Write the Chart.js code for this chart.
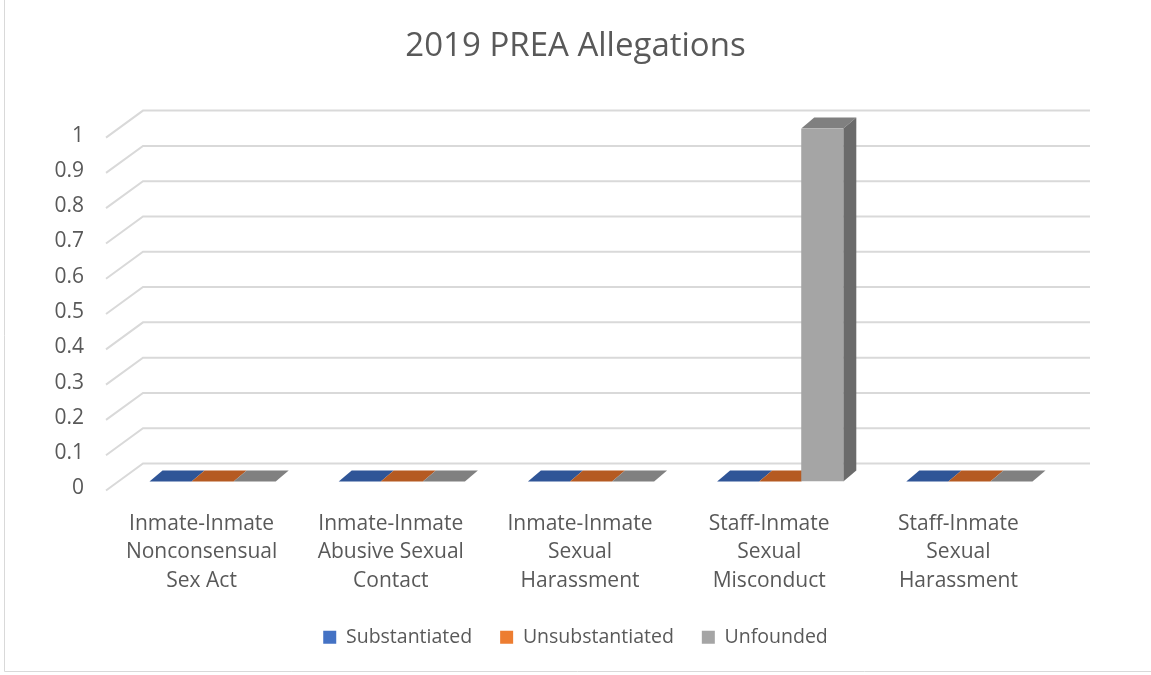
<!DOCTYPE html>
<html>
<head>
<meta charset="utf-8">
<script src="https://cdn.jsdelivr.net/npm/chart.js@4"></script>
<style>
  html, body { margin: 0; padding: 0; background: #fff; }
  #wrap { width: 1151px; height: 675px; position: relative; }
</style>
</head>
<body>
<div id="wrap"><canvas id="myChart" width="1151" height="675"></canvas></div>
<script>
var categories = [
    ['Inmate-Inmate', 'Nonconsensual', 'Sex Act'],
    ['Inmate-Inmate', 'Abusive Sexual', 'Contact'],
    ['Inmate-Inmate', 'Sexual', 'Harassment'],
    ['Staff-Inmate', 'Sexual', 'Misconduct'],
    ['Staff-Inmate', 'Sexual', 'Harassment']
];
var substantiated = [0, 0, 0, 0, 0];
var unsubstantiated = [0, 0, 0, 0, 0];
var unfounded = [0, 0, 0, 1, 0];
var yTicks = [0, 0.1, 0.2, 0.3, 0.4, 0.5, 0.6, 0.7, 0.8, 0.9, 1];

var textColor = '#595959';
var fontName = "'Open Sans', sans-serif";

// profundidad del efecto 3D
var barDx = 13, barDy = 11;
var wallDx = 37, wallDy = 27;

// dibuja las paredes con lineas diagonales y las caras superiores/laterales de las barras
var fake3d = {
    id: 'fake3d',
    beforeDatasetsDraw: function(chart) {
        var ctx = chart.ctx;
        var area = chart.chartArea;
        var y = chart.scales.y;
        ctx.save();
        ctx.strokeStyle = '#d9d9d9';
        ctx.lineWidth = 2;
        y.ticks.forEach(function(t) {
            var p = y.getPixelForValue(t.value);
            ctx.beginPath();
            ctx.moveTo(area.left - 12, p + 9);
            ctx.lineTo(area.left - 12 + wallDx, p + 9 - wallDy);
            ctx.lineTo(area.right + 26, p + 9 - wallDy);
            ctx.stroke();
        });

        chart.data.datasets.forEach(function(ds, i) {
            var meta = chart.getDatasetMeta(i);
            meta.data.forEach(function(bar) {
                var half = bar.width / 2;
                var l = bar.x - half, r = bar.x + half;
                // cara superior
                ctx.fillStyle = ds.topColor;
                ctx.beginPath();
                ctx.moveTo(l, bar.y);
                ctx.lineTo(r, bar.y);
                ctx.lineTo(r + barDx, bar.y - barDy);
                ctx.lineTo(l + barDx, bar.y - barDy);
                ctx.closePath();
                ctx.fill();
                // cara lateral
                if (bar.base - bar.y > 0.5) {
                    ctx.fillStyle = ds.sideColor;
                    ctx.beginPath();
                    ctx.moveTo(r, bar.y);
                    ctx.lineTo(r + barDx, bar.y - barDy);
                    ctx.lineTo(r + barDx, bar.base - barDy);
                    ctx.lineTo(r, bar.base);
                    ctx.closePath();
                    ctx.fill();
                }
            });
        });
        ctx.restore();
    },
    afterDraw: function(chart) {
        var ctx = chart.ctx;
        ctx.save();
        ctx.strokeStyle = '#d9d9d9';
        ctx.lineWidth = 1;
        ctx.beginPath();
        ctx.moveTo(4.5, 0);
        ctx.lineTo(4.5, 671.5);
        ctx.lineTo(1151, 671.5);
        ctx.stroke();
        ctx.restore();
    }
};

var ctx = document.getElementById('myChart').getContext('2d');
var chart = new Chart(ctx, {
    type: 'bar',
    data: {
        labels: categories,
        datasets: [{
            label: 'Substantiated',
            data: substantiated,
            backgroundColor: '#4472c4',
            topColor: '#2f5597',
            sideColor: '#2a4a80'
        }, {
            label: 'Unsubstantiated',
            data: unsubstantiated,
            backgroundColor: '#ed7d31',
            topColor: '#b55a22',
            sideColor: '#9c4c1c'
        }, {
            label: 'Unfounded',
            data: unfounded,
            backgroundColor: '#a5a5a5',
            topColor: '#808080',
            sideColor: '#6b6b6b'
        }]
    },
    options: {
        responsive: false,
        animation: false,
        maintainAspectRatio: false,
        categoryPercentage: 0.667,
        barPercentage: 1,
        layout: { padding: { left: 0, right: 0, top: 0, bottom: 18 } },
        plugins: {
            title: {
                display: true,
                text: '2019 PREA Allegations',
                color: textColor,
                font: { family: fontName, size: 33, weight: 'normal' },
                padding: { top: 27, bottom: 62 }
            },
            legend: {
                position: 'bottom',
                labels: {
                    color: textColor,
                    font: { family: fontName, size: 19.5 },
                    boxWidth: 13,
                    boxHeight: 13,
                    padding: 28
                }
            },
            tooltip: { enabled: false }
        },
        scales: {
            x: {
                grid: { display: false, drawTicks: false },
                border: { display: false },
                ticks: {
                    color: textColor,
                    font: { family: fontName, size: 21, lineHeight: 1.36 },
                    padding: 28,
                    labelOffset: -11,
                    maxRotation: 0
                },
                afterFit: function(s) { s.height = 118; }
            },
            y: {
                min: 0,
                max: 1,
                grid: { display: false, drawTicks: false },
                border: { display: false },
                afterBuildTicks: function(s) {
                    s.ticks = yTicks.map(function(v) { return { value: v }; });
                },
                ticks: {
                    color: textColor,
                    font: { family: fontName, size: 21 },
                    padding: 34,
                    labelOffset: 7,
                    callback: function(v) { return String(Math.round(v * 10) / 10); }
                },
                afterFit: function(s) { s.width = 118; }
            },
            // eje vacio a la derecha para reservar el espacio del fondo 3D
            yRight: {
                position: 'right',
                min: 0,
                max: 1,
                grid: { display: false, drawTicks: false },
                border: { display: false },
                ticks: { display: false },
                afterFit: function(s) { s.width = 87; }
            }
        }
    },
    plugins: [fake3d]
});
</script>
</body>
</html>
